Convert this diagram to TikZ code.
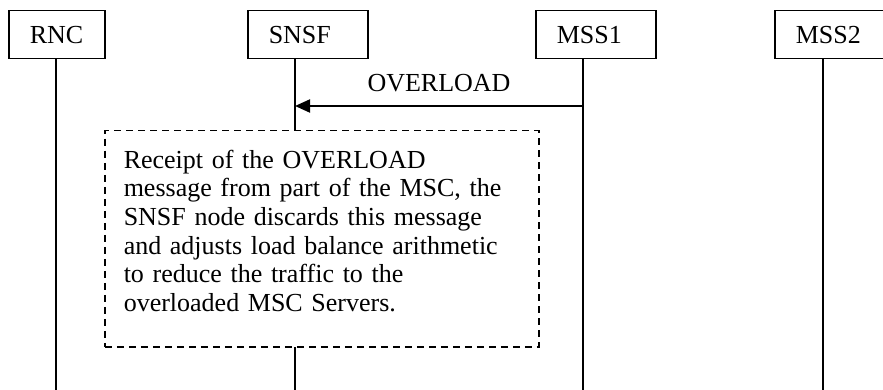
\documentclass[tikz,border=0pt]{standalone}
\usepackage{fontspec}
\setmainfont{Liberation Serif}
\usetikzlibrary{arrows.meta}
\usetikzlibrary{positioning}

\tikzset{
  entity/.style={draw, line width=0.75pt, anchor=north west, minimum height=24pt,
    inner xsep=10.5pt, inner ysep=0pt, text width=39pt, align=left,
    font=\fontsize{13}{14.35}\selectfont},
  lifeline/.style={line width=0.75pt},
  msg/.style={line width=1pt, -{Triangle[length=7.5pt,width=6.5pt]}},
  notebox/.style={draw, dash pattern=on 3.5pt off 2.5pt, line width=0.75pt, fill=white,
    anchor=north west, minimum height=108pt, inner xsep=9.5pt, inner ysep=0pt,
    text width=198pt, align=left, font=\fontsize{13}{14.35}\selectfont}
}

\begin{document}
\begin{tikzpicture}[x=0.5pt, y=-0.5pt]
      \useasboundingbox (0,0) rectangle (883,390);

      % entities
      \node [entity, text width=27pt] (rnc) at (8,10) {RNC};
      \node [entity] (snsf) at (247,10) {SNSF};
      \node [entity] (mss1) at (535,10) {MSS1};
      \node [entity] (mss2) at (774,10) {MSS2};

      \coordinate (rncEnd) at (56,390);
      \coordinate (snsfEnd) at (295,390);
      \coordinate (mss1End) at (583,390);
      \coordinate (mss2End) at (823,390);

      \draw [lifeline] (rnc.south west -| rncEnd) -- (rncEnd);
      \draw [lifeline] (snsf.south west -| snsfEnd) -- (snsfEnd);
      \draw [lifeline] (mss1.south west -| mss1End) -- (mss1End);
      \draw [lifeline] (mss2.south west -| mss2End) -- (mss2End);

      \coordinate (ovlFrom) at (583,106);
      \coordinate (ovlTo) at (295,106);
      \draw [msg] (ovlFrom) -- (ovlTo)
      node [midway, above=3pt] {\fontsize{13}{14.35}\selectfont OVERLOAD};

      \node [notebox, minimum width=217pt] (note) at (104,130)
      {Receipt of the OVERLOAD\\
       message from part of the MSC, the\\
       SNSF node discards this message\\
       and adjusts load balance arithmetic\\
       to reduce the traffic to the\\
       overloaded MSC Servers.\rule[-8pt]{0pt}{8pt}};
    \end{tikzpicture}
\end{document}
